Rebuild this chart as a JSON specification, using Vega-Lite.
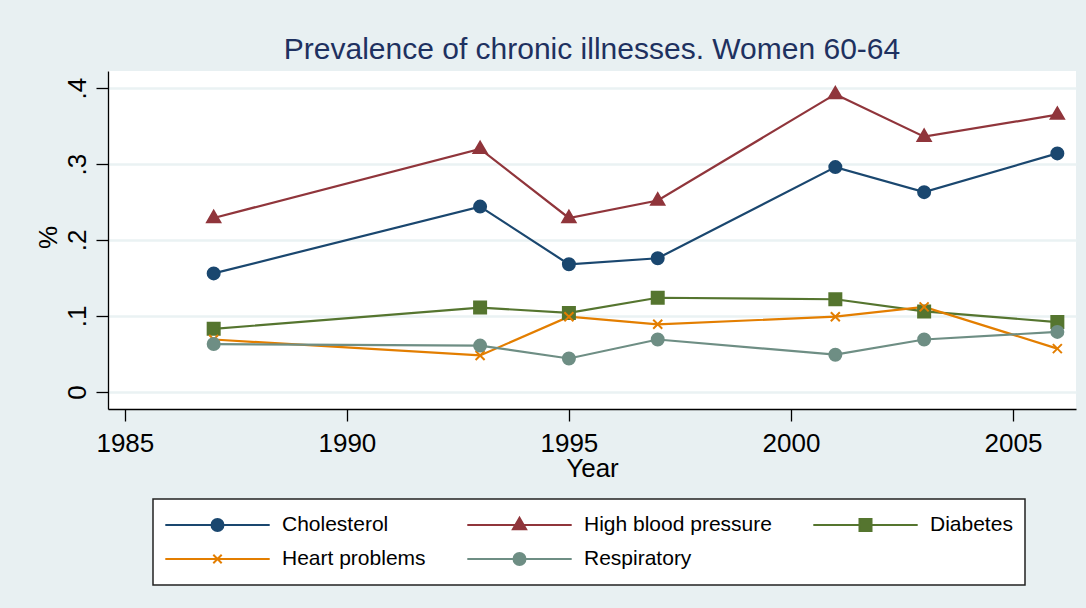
{
  "$schema": "https://vega.github.io/schema/vega-lite/v6.json",
  "width": 968,
  "height": 338,
  "autosize": {"type": "none"},
  "padding": {"left": 108, "top": 71, "right": 10, "bottom": 199},
  "background": "#E8F0F2",
  "title": {
    "text": "Prevalence of chronic illnesses. Women 60-64",
    "fontSize": 30,
    "fontWeight": "normal",
    "color": "#1E3160",
    "font": "Liberation Sans",
    "anchor": "middle",
    "baseline": "alphabetic",
    "offset": 10,
    "dy": 28
  },
  "config": {
    "font": "Liberation Sans",
    "view": {"fill": "white", "stroke": null},
    "legend": {
      "orient": "none",
      "legendX": 45,
      "legendY": 428,
      "columns": 3,
      "direction": "horizontal",
      "padding": 12,
      "fillColor": "white",
      "strokeColor": "#222222",
      "strokeWidth": 1.5,
      "cornerRadius": 0,
      "labelFontSize": 21,
      "labelColor": "black",
      "labelFont": "Liberation Sans",
      "labelLimit": 400,
      "symbolSize": 144,
      "symbolStrokeWidth": 2,
      "symbolOffset": 42,
      "labelOffset": 54,
      "columnPadding": 41,
      "rowPadding": 6,
      "clipHeight": 28
    }
  },
  "data": {
    "values": [
      {"year": 1987, "series": "Cholesterol", "value": 0.156},
      {"year": 1993, "series": "Cholesterol", "value": 0.244},
      {"year": 1995, "series": "Cholesterol", "value": 0.168},
      {"year": 1997, "series": "Cholesterol", "value": 0.176},
      {"year": 2001, "series": "Cholesterol", "value": 0.296},
      {"year": 2003, "series": "Cholesterol", "value": 0.263},
      {"year": 2006, "series": "Cholesterol", "value": 0.314},
      {"year": 1987, "series": "High blood pressure", "value": 0.229},
      {"year": 1993, "series": "High blood pressure", "value": 0.320},
      {"year": 1995, "series": "High blood pressure", "value": 0.229},
      {"year": 1997, "series": "High blood pressure", "value": 0.252},
      {"year": 2001, "series": "High blood pressure", "value": 0.392},
      {"year": 2003, "series": "High blood pressure", "value": 0.336},
      {"year": 2006, "series": "High blood pressure", "value": 0.365},
      {"year": 1987, "series": "Diabetes", "value": 0.083},
      {"year": 1993, "series": "Diabetes", "value": 0.111},
      {"year": 1995, "series": "Diabetes", "value": 0.104},
      {"year": 1997, "series": "Diabetes", "value": 0.124},
      {"year": 2001, "series": "Diabetes", "value": 0.122},
      {"year": 2003, "series": "Diabetes", "value": 0.106},
      {"year": 2006, "series": "Diabetes", "value": 0.092},
      {"year": 1987, "series": "Heart problems", "value": 0.069},
      {"year": 1993, "series": "Heart problems", "value": 0.048},
      {"year": 1995, "series": "Heart problems", "value": 0.099},
      {"year": 1997, "series": "Heart problems", "value": 0.089},
      {"year": 2001, "series": "Heart problems", "value": 0.099},
      {"year": 2003, "series": "Heart problems", "value": 0.112},
      {"year": 2006, "series": "Heart problems", "value": 0.057},
      {"year": 1987, "series": "Respiratory", "value": 0.063},
      {"year": 1993, "series": "Respiratory", "value": 0.061},
      {"year": 1995, "series": "Respiratory", "value": 0.044},
      {"year": 1997, "series": "Respiratory", "value": 0.069},
      {"year": 2001, "series": "Respiratory", "value": 0.049},
      {"year": 2003, "series": "Respiratory", "value": 0.069},
      {"year": 2006, "series": "Respiratory", "value": 0.079}
    ]
  },
  "encoding": {
    "x": {
      "field": "year",
      "type": "quantitative",
      "scale": {"domain": [1984.62, 2006.42], "nice": false, "zero": false},
      "axis": {
        "title": "Year",
        "values": [1985, 1990, 1995, 2000, 2005],
        "format": "d",
        "grid": false,
        "domainColor": "black",
        "domainWidth": 1.3,
        "tickColor": "black",
        "tickWidth": 1.3,
        "tickSize": 12,
        "labelFontSize": 26,
        "labelColor": "black",
        "labelBaseline": "alphabetic",
        "labelPadding": 30,
        "labelFlush": false,
        "labelOverlap": false,
        "titleFontSize": 26,
        "titleFontWeight": "normal",
        "titleColor": "black",
        "titleBaseline": "alphabetic",
        "titleY": 67
      }
    },
    "y": {
      "field": "value",
      "type": "quantitative",
      "scale": {"domain": [-0.0225, 0.4225], "nice": false, "zero": false},
      "axis": {
        "title": "%",
        "values": [0, 0.1, 0.2, 0.3, 0.4],
        "labelExpr": "datum.value == 0 ? '0' : replace(format(datum.value, '.1f'), '0.', '.')",
        "grid": true,
        "gridColor": "#EAF2F3",
        "gridWidth": 2.5,
        "domainColor": "black",
        "domainWidth": 1.3,
        "tickColor": "black",
        "tickWidth": 1.3,
        "tickSize": 12,
        "labelFontSize": 26,
        "labelColor": "black",
        "labelAngle": 270,
        "labelAlign": "center",
        "labelBaseline": "alphabetic",
        "labelPadding": 11,
        "labelOverlap": false,
        "labelFlush": false,
        "titleFontSize": 26,
        "titleFontWeight": "normal",
        "titleColor": "black",
        "titleAngle": 270,
        "titleAlign": "center",
        "titleBaseline": "alphabetic",
        "titleX": -52,
        "titleY": 166
      }
    }
  },
  "layer": [
    {
      "mark": {"type": "line", "strokeWidth": 2.2},
      "encoding": {
        "color": {
          "field": "series",
          "type": "nominal",
          "scale": {
            "domain": ["Cholesterol", "High blood pressure", "Diabetes", "Heart problems", "Respiratory"],
            "range": ["#1A476F", "#90353B", "#55752F", "#E37E00", "#6E8E84"]
          },
          "legend": {
            "title": null,
            "encoding": {
              "symbols": {
                "shape": {"value": {"expr": "datum.value === 'High blood pressure' ? 'M-8.7,0L8.7,0M0,-1.2L1.1,0.7L-1.1,0.7Z' : datum.value === 'Diabetes' ? 'M-8.7,0L8.7,0M-1,-1H1V1H-1Z' : datum.value === 'Heart problems' ? 'M-8.7,0L8.7,0M-0.7,-0.7L0.7,0.7M-0.7,0.7L0.7,-0.7' : 'M-8.7,0L8.7,0M-1,0A1,1,0,1,1,1,0A1,1,0,1,1,-1,0Z'"}},
                "stroke": {"value": {"expr": "scale('color', datum.value)"}},
                "fill": {"value": {"expr": "scale('color', datum.value)"}},
                "strokeWidth": {"value": 2},
                "size": {"value": 144},
                "opacity": {"value": 1}
              }
            }
          }
        }
      }
    },
    {
      "mark": {"type": "point", "filled": true, "opacity": 1, "size": 144, "strokeWidth": 2},
      "encoding": {
        "color": {
          "field": "series",
          "type": "nominal",
          "legend": {
            "title": null,
            "encoding": {
              "symbols": {
                "shape": {"value": {"expr": "datum.value === 'High blood pressure' ? 'M-8.7,0L8.7,0M0,-1.2L1.1,0.7L-1.1,0.7Z' : datum.value === 'Diabetes' ? 'M-8.7,0L8.7,0M-1,-1H1V1H-1Z' : datum.value === 'Heart problems' ? 'M-8.7,0L8.7,0M-0.7,-0.7L0.7,0.7M-0.7,0.7L0.7,-0.7' : 'M-8.7,0L8.7,0M-1,0A1,1,0,1,1,1,0A1,1,0,1,1,-1,0Z'"}},
                "stroke": {"value": {"expr": "scale('color', datum.value)"}},
                "fill": {"value": {"expr": "scale('color', datum.value)"}},
                "strokeWidth": {"value": 2},
                "size": {"value": 144},
                "opacity": {"value": 1}
              }
            }
          }
        },
        "stroke": {
          "field": "series",
          "type": "nominal",
          "scale": {
            "domain": ["Cholesterol", "High blood pressure", "Diabetes", "Heart problems", "Respiratory"],
            "range": ["#1A476F", "#90353B", "#55752F", "#E37E00", "#6E8E84"]
          },
          "legend": null
        },
        "shape": {
          "field": "series",
          "type": "nominal",
          "scale": {
            "domain": ["Respiratory", "Heart problems", "Diabetes", "High blood pressure", "Cholesterol"],
            "range": ["circle", "M-0.75,-0.75L0.75,0.75M-0.75,0.75L0.75,-0.75", "M-1,-1H1V1H-1Z", "M0,-1.2L1.1,0.7L-1.1,0.7Z", "circle"]
          },
          "legend": null
        }
      }
    }
  ]
}
